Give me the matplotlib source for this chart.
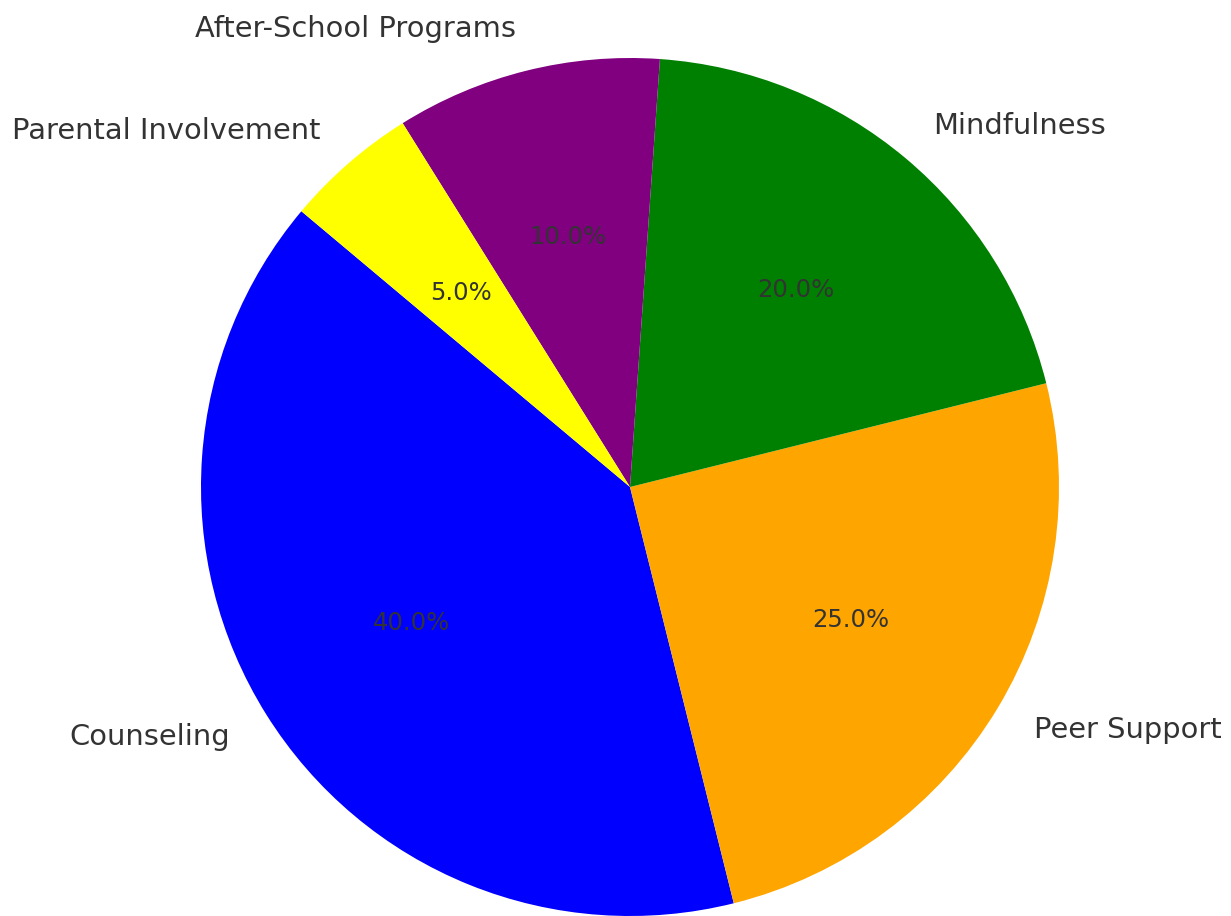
import matplotlib
matplotlib.use("Agg")
import matplotlib.pyplot as plt

categories = ['Counseling', 'Peer Support', 'Mindfulness', 'After-School Programs', 'Parental Involvement']
shares = [40, 25, 20, 10, 5]
colors = ['blue', 'orange', 'green', 'purple', 'yellow']

W, H = 1231, 916
cx, cy, r = 630, 487, 429

fig = plt.figure(figsize=(W / 100, H / 100), dpi=100)
ax = fig.add_axes([0, 0, 1, 1])
wedges, texts, autotexts = ax.pie(shares, labels=categories, colors=colors,
                                  autopct='%1.1f%%', startangle=140,
                                  textprops={'color': '#333333', 'fontsize': 20.8})
for t in autotexts:
    t.set_fontsize(17.5)

# place the pie where it sits in the reference (radius 1 = r pixels)
ax.set_xlim(-cx / r, (W - cx) / r)
ax.set_ylim(-(H - cy) / r, cy / r)
ax.set_aspect('auto')
ax.axis('off')

fig.savefig('out.png', dpi=100)
